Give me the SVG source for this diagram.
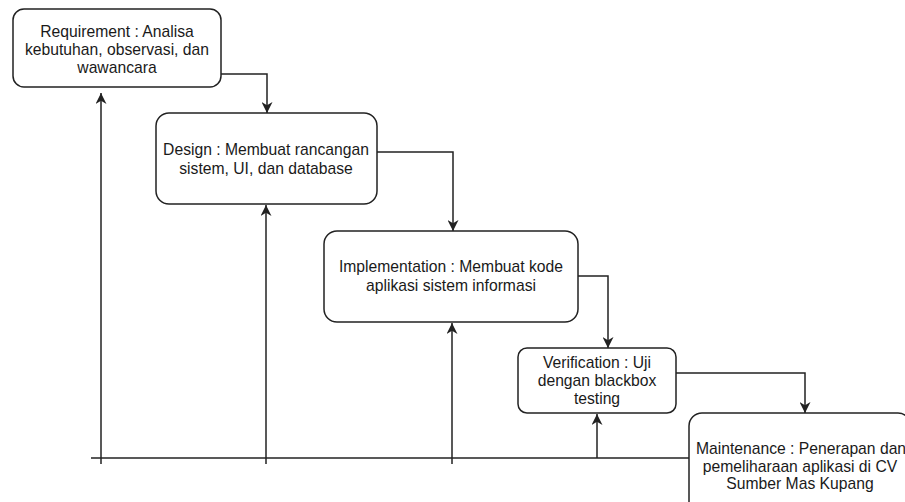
<svg xmlns="http://www.w3.org/2000/svg" width="905" height="502" viewBox="0 0 905 502">
<style>
.box{fill:#fff;stroke:#222;stroke-width:1.5}
.t{font-family:"Liberation Sans",Arial,sans-serif;font-size:15.7px;fill:#1a1a1a;text-anchor:middle}
.c{fill:none;stroke:#222;stroke-width:1.5}
</style>
<defs>
<marker id="ah" viewBox="0 0 10 10" refX="10" refY="5" markerWidth="11" markerHeight="11" markerUnits="userSpaceOnUse" orient="auto">
<path d="M0,0 L10,5 L0,10 L3,5 Z" fill="#222"/>
</marker>
</defs>
<rect width="905" height="502" fill="#fff"/>
<g id="connectors">
<path class="c" d="M91,458 H689"/>
<path class="c" d="M101,464 V93" marker-end="url(#ah)"/>
<path class="c" d="M266,464 V205" marker-end="url(#ah)"/>
<path class="c" d="M452,464 V323" marker-end="url(#ah)"/>
<path class="c" d="M597,458 V414" marker-end="url(#ah)"/>
<path class="c" d="M221,74 H267 V113" marker-end="url(#ah)"/>
<path class="c" d="M377,152 H453 V231" marker-end="url(#ah)"/>
<path class="c" d="M578,276 H608 V348" marker-end="url(#ah)"/>
<path class="c" d="M676,373 H805 V413" marker-end="url(#ah)"/>
</g>
<g id="requirement">
<rect class="box" x="13" y="9" width="208" height="78" rx="11"/>
<text class="t" x="117" y="37">Requirement : Analisa</text>
<text class="t" x="117" y="55">kebutuhan, observasi, dan</text>
<text class="t" x="117" y="73">wawancara</text>
</g>
<g id="design">
<rect class="box" x="156" y="113" width="221" height="91" rx="13"/>
<text class="t" x="266" y="155">Design : Membuat rancangan</text>
<text class="t" x="266" y="174">sistem, UI, dan database</text>
</g>
<g id="implementation">
<rect class="box" x="324" y="231" width="254" height="91" rx="13"/>
<text class="t" x="451" y="272">Implementation : Membuat kode</text>
<text class="t" x="451" y="291">aplikasi sistem informasi</text>
</g>
<g id="verification">
<rect class="box" x="518" y="348" width="158" height="65" rx="9"/>
<text class="t" x="597" y="368">Verification : Uji</text>
<text class="t" x="597" y="386">dengan blackbox</text>
<text class="t" x="597" y="404">testing</text>
</g>
<g id="maintenance">
<rect class="box" x="689" y="413" width="222" height="106" rx="13"/>
<text class="t" x="801" y="454">Maintenance : Penerapan dan</text>
<text class="t" x="800" y="472">pemeliharaan aplikasi di CV</text>
<text class="t" x="800" y="489">Sumber Mas Kupang</text>
</g>
</svg>
